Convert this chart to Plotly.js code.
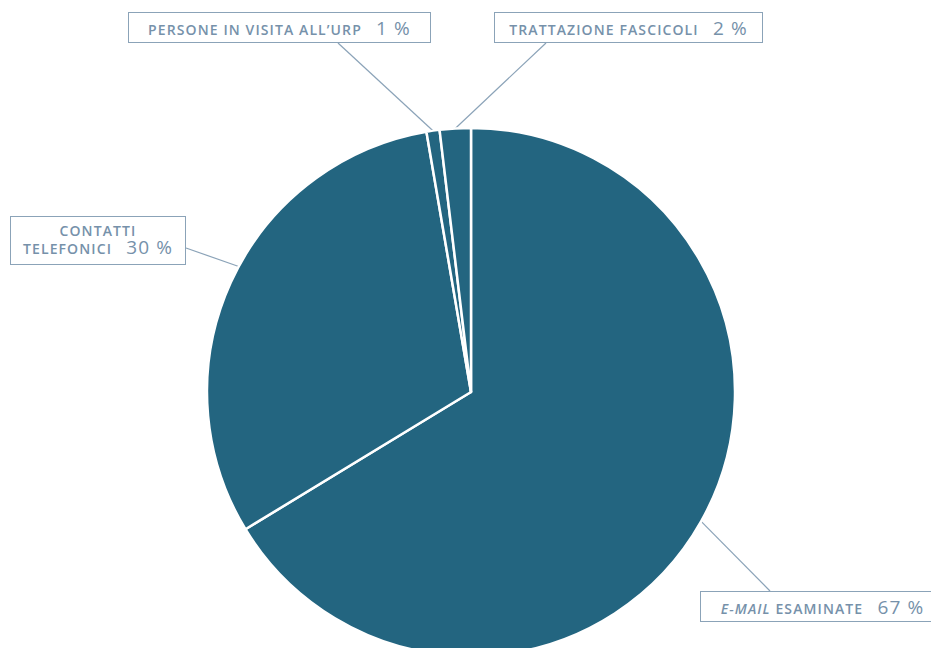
<!DOCTYPE html>
<html>
<head>
<meta charset="utf-8">
<script src="https://cdn.plot.ly/plotly-3.0.1.min.js"></script>
<style>
html,body{margin:0;padding:0;overflow:hidden;background:#fff;}
#chart{width:931px;height:662px;}
.annotation-text{letter-spacing:1.1px;}
</style>
</head>
<body>
<div id="chart"></div>
<script>
// Data
const categories = ["E-MAIL ESAMINATE", "CONTATTI TELEFONICI", "PERSONE IN VISITA ALL’URP", "TRATTAZIONE FASCICOLI"];
const values = [66.3, 31.0, 0.8, 1.9];
const percentLabels = ["67 %", "30 %", "1 %", "2 %"];

const W = 931, H = 662;
const CX = 471, CY = 392, R = 264;
const px = x => x / W;
const py = y => 1 - y / H;

const sliceColor = "#236580";
const textColor = "#7691aa";
const boxColor = "#8ba3b8";
const NB = "\u00a0";
const pct = s => "<span style='font-size:19px;font-weight:400'>" + s + "</span>";

// label box layout (center x, center y, width, height, attachment point, position along slice 0..1)
const boxes = [
  {cx: 822, cy: 606, w: 245, h: 31, ax: 770, ay: 591, f: 0.5,
   text: "<i>E-MAIL</i> ESAMINATE" + NB+NB+NB + pct(percentLabels[0])},
  {cx: 98, cy: 240.5, w: 176, h: 49, ax: 186, ay: 248, f: 0.535,
   text: "CONTATTI<br>TELEFONICI" + NB+NB+NB + pct(percentLabels[1])},
  {cx: 279.5, cy: 27.5, w: 303, h: 31, ax: 338, ay: 43, f: 0.5,
   text: categories[2] + NB+NB+NB + pct(percentLabels[2])},
  {cx: 628.5, cy: 27.5, w: 269, h: 31, ax: 546, ay: 43, f: 0.5,
   text: categories[3] + NB+NB+NB + pct(percentLabels[3])}
];

// angle of each slice's connector point (clockwise from top)
const total = values.reduce((a, b) => a + b, 0);
let cum = 0;
const mids = values.map((v, i) => { const m = (cum + v * boxes[i].f) / total * 2 * Math.PI; cum += v; return m; });

const annotations = boxes.map(b => ({
  xref: "paper", yref: "paper",
  x: px(b.cx), y: py(b.cy), xanchor: "center", yanchor: "middle",
  width: b.w - 2, height: b.h - 2,
  text: b.text, showarrow: false, align: "center",
  font: {family: "Open Sans, Lato, sans-serif", size: 14, color: textColor, weight: 600},
  bgcolor: "#ffffff", bordercolor: boxColor, borderwidth: 1, borderpad: 0
}));

const shapes = boxes.map((b, i) => {
  const ex = CX + R * Math.sin(mids[i]);
  const ey = CY - R * Math.cos(mids[i]);
  return {type: "line", xref: "paper", yref: "paper",
    x0: px(b.ax), y0: py(b.ay), x1: px(ex), y1: py(ey),
    line: {color: boxColor, width: 1.2}, layer: "below"};
});

const trace = {
  type: "pie",
  labels: categories,
  values: values,
  sort: false,
  direction: "clockwise",
  rotation: 0,
  textinfo: "none",
  hoverinfo: "label+percent",
  marker: {colors: [sliceColor, sliceColor, sliceColor, sliceColor], line: {color: "#ffffff", width: 2.5}},
  domain: {x: [px(CX - R), px(CX + R)], y: [py(CY + R), py(CY - R)]},
  showlegend: false
};

Plotly.newPlot("chart", [trace], {
  width: W, height: H,
  margin: {l: 0, r: 0, t: 0, b: 0},
  paper_bgcolor: "#ffffff",
  showlegend: false,
  annotations: annotations,
  shapes: shapes
}, {displayModeBar: false, staticPlot: true});
</script>
</body>
</html>
